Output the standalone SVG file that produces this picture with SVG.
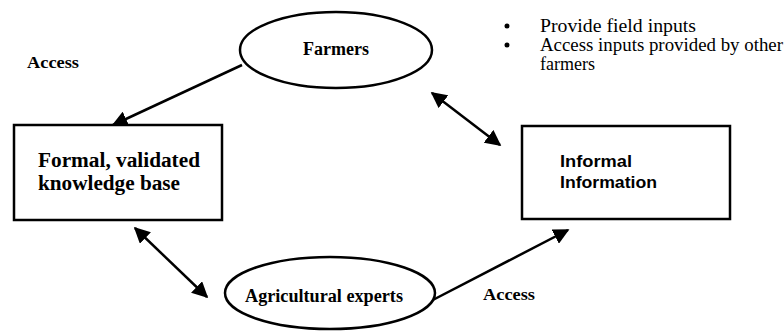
<svg xmlns="http://www.w3.org/2000/svg" width="784" height="331" viewBox="0 0 784 331">
<defs>
<marker id="ah" viewBox="0 0 10 10" refX="9" refY="5" markerWidth="16" markerHeight="16" markerUnits="userSpaceOnUse" orient="auto-start-reverse">
<path d="M0,0 L10,5 L0,10 z" fill="#000"/>
</marker>
<style>
.shape{fill:#fff;stroke:#000;stroke-width:2.5}
.lbl{font-family:"Liberation Serif","Times New Roman",serif;font-weight:bold;fill:#000}
.sans{font-family:"Liberation Sans",Arial,sans-serif;font-weight:bold;fill:#000}
.bul{font-family:"Liberation Serif","Times New Roman",serif;font-size:18px;fill:#000}
.con{stroke:#000;stroke-width:2.5;fill:none}
</style>
</defs>
<rect width="784" height="331" fill="#fff"/>
<g id="connectors">
<line class="con" x1="242" y1="65" x2="113" y2="125" marker-end="url(#ah)"/>
<line class="con" x1="432" y1="93" x2="500" y2="145" marker-start="url(#ah)" marker-end="url(#ah)"/>
<line class="con" x1="135" y1="228" x2="207" y2="297" marker-start="url(#ah)" marker-end="url(#ah)"/>
<line class="con" x1="427" y1="303" x2="568" y2="230" marker-end="url(#ah)"/>
</g>
<g id="farmers">
<ellipse class="shape" cx="336" cy="50" rx="96" ry="38"/>
<text class="lbl" x="303" y="55" font-size="18" textLength="66" lengthAdjust="spacingAndGlyphs">Farmers</text>
</g>
<g id="formal">
<rect class="shape" x="14" y="125" width="208" height="95"/>
<text class="lbl" x="38" y="167" font-size="20" textLength="162" lengthAdjust="spacingAndGlyphs">Formal, validated</text>
<text class="lbl" x="38" y="190" font-size="20" textLength="142" lengthAdjust="spacingAndGlyphs">knowledge base</text>
</g>
<g id="informal">
<rect class="shape" x="522" y="126" width="208" height="93"/>
<text class="sans" x="560" y="167" font-size="16" textLength="72" lengthAdjust="spacingAndGlyphs">Informal</text>
<text class="sans" x="560" y="188" font-size="16" textLength="97" lengthAdjust="spacingAndGlyphs">Information</text>
</g>
<g id="experts">
<ellipse class="shape" cx="330" cy="293" rx="105" ry="36"/>
<text class="lbl" x="245" y="302" font-size="18" textLength="158" lengthAdjust="spacingAndGlyphs">Agricultural experts</text>
</g>
<g id="labels">
<text class="lbl" x="27" y="68" font-size="16" textLength="52" lengthAdjust="spacingAndGlyphs">Access</text>
<text class="lbl" x="483" y="300" font-size="16" textLength="52" lengthAdjust="spacingAndGlyphs">Access</text>
</g>
<g id="notes">
<circle cx="507" cy="26" r="2.5" fill="#000"/>
<circle cx="507" cy="45" r="2.5" fill="#000"/>
<text class="bul" x="540" y="32" textLength="156" lengthAdjust="spacingAndGlyphs">Provide field inputs</text>
<text class="bul" x="540" y="51" textLength="243" lengthAdjust="spacingAndGlyphs">Access inputs provided by other</text>
<text class="bul" x="540" y="70">farmers</text>
</g>
</svg>
